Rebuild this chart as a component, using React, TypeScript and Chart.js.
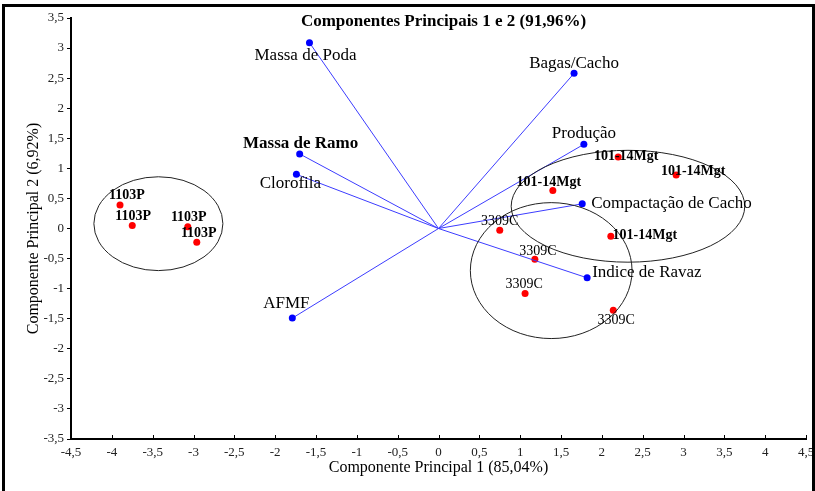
import React, { useEffect, useRef } from 'react';
import { Chart, registerables } from 'chart.js';

Chart.register(...registerables);

// ---- Data ----
const variableNames = ['Massa de Poda', 'Bagas/Cacho', 'Produção', 'Massa de Ramo', 'Clorofila', 'Compactação de Cacho', 'Indice de Ravaz', 'AFMF'];
const variablePC1 = [-1.58, 1.66, 1.78, -1.70, -1.74, 1.76, 1.82, -1.79];
const variablePC2 = [3.09, 2.58, 1.40, 1.24, 0.90, 0.41, -0.82, -1.49];

const sampleNames = ['1103P', '1103P', '1103P', '1103P', '101-14Mgt', '101-14Mgt', '101-14Mgt', '101-14Mgt', '3309C', '3309C', '3309C', '3309C'];
const samplePC1 = [-3.90, -3.75, -3.07, -2.96, 2.20, 2.91, 1.40, 2.11, 0.75, 1.18, 1.06, 2.14];
const samplePC2 = [0.39, 0.05, 0.03, -0.23, 1.19, 0.89, 0.63, -0.13, -0.03, -0.51, -1.08, -1.36];

const groupNames = ['1103P', '101-14Mgt', '3309C'];
const groupCenterPC1 = [-3.43, 2.32, 1.38];
const groupCenterPC2 = [0.08, 0.37, -0.70];
const groupRadiusPC1 = [0.79, 1.43, 0.99];
const groupRadiusPC2 = [0.78, 0.93, 1.13];

const chartTitle = 'Componentes Principais 1 e 2 (91,96%)';
const xAxisTitle = 'Componente Principal 1 (85,04%)';
const yAxisTitle = 'Componente Principal 2 (6,92%)';
const xMin = -4.5, xMax = 4.5, yMin = -3.5, yMax = 3.5, tickStep = 0.5;

// ---- Styles (label placement in pixels relative to the point) ----
const SERIF = '"Liberation Serif", "Times New Roman", serif';
const variableLabelStyle = [
  { dx: -4, dy: 13, align: 'center', bold: false },
  { dx: 0, dy: -10, align: 'center', bold: false },
  { dx: 0, dy: -11, align: 'center', bold: false },
  { dx: 1, dy: -10, align: 'center', bold: true },
  { dx: -6, dy: 9, align: 'center', bold: false },
  { dx: 9, dy: 0, align: 'left', bold: false },
  { dx: 5, dy: -5, align: 'left', bold: false },
  { dx: -6, dy: -15, align: 'center', bold: false },
];
const sampleLabelStyle = [
  { dx: 7, dy: -10 }, { dx: 1, dy: -9 }, { dx: 1, dy: -9 }, { dx: 2, dy: -9 },
  { dx: 8, dy: -1 }, { dx: 17, dy: -4 }, { dx: -4, dy: -8 }, { dx: 34, dy: -1 },
  { dx: 0, dy: -9 }, { dx: 3, dy: -8 }, { dx: -1, dy: -9 }, { dx: 3, dy: 10 },
];
const boldSamples = ['1103P', '101-14Mgt'];

const fmt = (v: number) => (Math.round(v * 10) / 10).toString().replace('.', ',');

const annotationPlugin = {
  id: 'pcaAnnotations',
  afterDatasetsDraw(chart: any) {
    const { ctx } = chart;
    const xs = chart.scales.x;
    const ys = chart.scales.y;
    ctx.save();
    // ellipses
    ctx.strokeStyle = '#222';
    ctx.lineWidth = 1;
    groupNames.forEach((_, i) => {
      const cx = xs.getPixelForValue(groupCenterPC1[i]);
      const cy = ys.getPixelForValue(groupCenterPC2[i]);
      const rx = Math.abs(xs.getPixelForValue(groupCenterPC1[i] + groupRadiusPC1[i]) - cx);
      const ry = Math.abs(ys.getPixelForValue(groupCenterPC2[i] + groupRadiusPC2[i]) - cy);
      ctx.beginPath();
      ctx.ellipse(cx, cy, rx, ry, 0, 0, Math.PI * 2);
      ctx.stroke();
    });
    // variable labels
    ctx.fillStyle = '#000';
    ctx.textBaseline = 'middle';
    variableNames.forEach((name, i) => {
      const s = variableLabelStyle[i];
      const px = xs.getPixelForValue(variablePC1[i]);
      const py = ys.getPixelForValue(variablePC2[i]);
      ctx.font = `${s.bold ? 'bold ' : ''}17px ${SERIF}`;
      ctx.textAlign = s.align;
      ctx.fillText(name, px + s.dx, py + s.dy);
    });
    // sample labels
    sampleNames.forEach((name, i) => {
      const s = sampleLabelStyle[i];
      const px = xs.getPixelForValue(samplePC1[i]);
      const py = ys.getPixelForValue(samplePC2[i]);
      ctx.font = `${boldSamples.includes(name) ? 'bold ' : ''}14px ${SERIF}`;
      ctx.textAlign = 'center';
      ctx.fillText(name, px + s.dx, py + s.dy);
    });
    ctx.restore();
  },
  afterDraw(chart: any) {
    const { ctx, chartArea } = chart;
    const xs = chart.scales.x;
    ctx.save();
    // inner x ticks
    ctx.strokeStyle = '#000';
    ctx.lineWidth = 1;
    xs.ticks.forEach((t: any, i: number) => {
      const px = Math.round(xs.getPixelForTick(i)) + 0.5;
      ctx.beginPath();
      ctx.moveTo(px, chartArea.bottom);
      ctx.lineTo(px, chartArea.bottom - 4);
      ctx.stroke();
    });
    // title
    ctx.fillStyle = '#000';
    ctx.font = `bold 17px ${SERIF}`;
    ctx.textAlign = 'center';
    ctx.textBaseline = 'middle';
    ctx.fillText(chartTitle, (chartArea.left + chartArea.right) / 2 + 5, chartArea.top + 4);
    // frame
    ctx.lineWidth = 3;
    ctx.strokeStyle = '#000';
    ctx.strokeRect(3.5, 5.5, 810, 500);
    ctx.restore();
  },
};

export default function App() {
  const ref = useRef<HTMLCanvasElement>(null);
  useEffect(() => {
    if (!ref.current) return;
    const vectorSets = variableNames.map((name, i) => ({
      type: 'line' as const,
      label: name,
      data: [{ x: 0, y: 0 }, { x: variablePC1[i], y: variablePC2[i] }],
      borderColor: '#3c3cff',
      borderWidth: 1,
      showLine: true,
      pointRadius: (c: any) => (c.dataIndex === 0 ? 0 : 3.5),
      pointBackgroundColor: '#0000ff',
      pointBorderWidth: 0,
    }));
    const chart = new Chart(ref.current, {
      type: 'scatter',
      data: {
        datasets: [
          ...vectorSets,
          {
            type: 'scatter' as const,
            label: 'Amostras',
            data: samplePC1.map((x, i) => ({ x, y: samplePC2[i] })),
            pointRadius: 3.5,
            pointBackgroundColor: '#ff0000',
            pointBorderWidth: 0,
          },
        ] as any,
      },
      options: {
        responsive: false,
        animation: false,
        layout: { padding: { left: 0, top: 18, right: 9, bottom: 0 } },
        plugins: { legend: { display: false }, tooltip: { enabled: false }, title: { display: false } },
        scales: {
          x: {
            type: 'linear',
            min: xMin,
            max: xMax,
            ticks: {
              stepSize: tickStep,
              autoSkip: false,
              maxRotation: 0,
              padding: 6,
              color: '#222',
              font: { family: SERIF, size: 13 },
              callback: (v: any) => fmt(Number(v)),
            },
            grid: { display: true, drawOnChartArea: false, drawTicks: false },
            border: { display: true, color: '#000', width: 2 },
            title: {
              display: true,
              text: xAxisTitle,
              color: '#000',
              font: { family: SERIF, size: 16 },
              padding: { top: 0, bottom: 14 },
            },
            afterFit: (s: any) => { s.height = 52; s.paddingLeft = 0; s.paddingRight = 0; },
          },
          y: {
            type: 'linear',
            min: yMin,
            max: yMax,
            ticks: {
              stepSize: tickStep,
              autoSkip: false,
              padding: 3,
              color: '#222',
              font: { family: SERIF, size: 13 },
              callback: (v: any) => fmt(Number(v)),
            },
            grid: { display: true, drawOnChartArea: false, drawTicks: true, tickLength: 4, color: '#000' },
            border: { display: true, color: '#000', width: 2 },
            title: {
              display: true,
              text: yAxisTitle,
              color: '#000',
              font: { family: SERIF, size: 16 },
              padding: { top: 24, bottom: 0 },
            },
            afterFit: (s: any) => { s.width = 71; s.paddingTop = 0; s.paddingBottom = 0; },
          },
        },
      },
      plugins: [annotationPlugin],
    });
    return () => chart.destroy();
  }, []);
  return (
    <canvas
      ref={ref}
      width={815}
      height={491}
      style={{ position: 'absolute', left: 0, top: 0, display: 'block', background: '#fff' }}
    />
  );
}
